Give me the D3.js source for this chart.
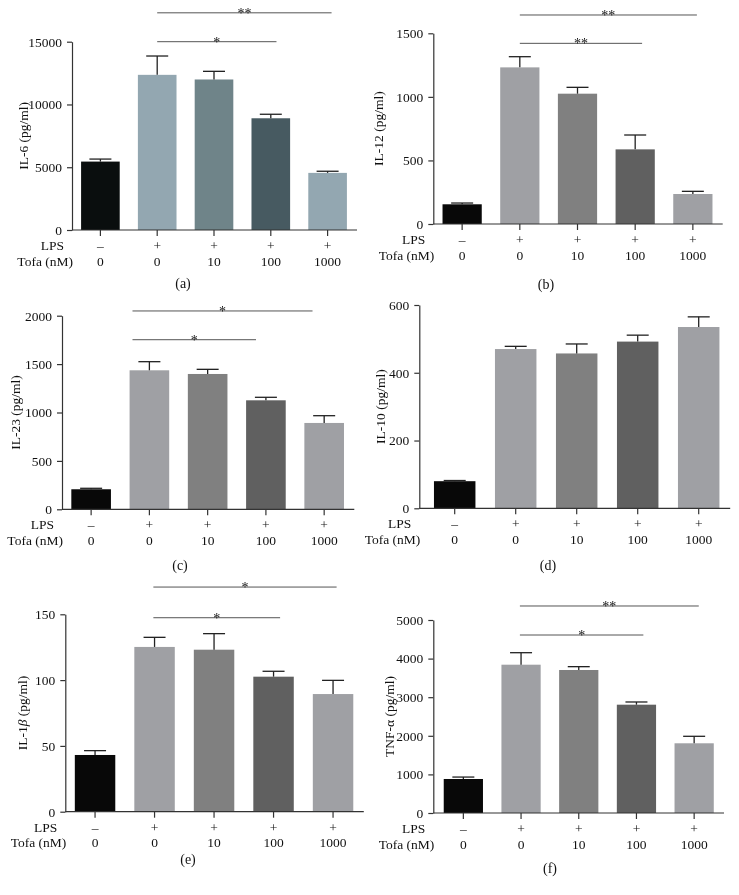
<!DOCTYPE html>
<html>
<head>
<meta charset="utf-8">
<script src="https://cdn.jsdelivr.net/npm/d3@7"></script>
<style>
  body { margin: 0; background: #fff; }
  svg { will-change: transform; }
  svg text { font-family: "Liberation Serif", "DejaVu Serif", serif; fill: #111; }
</style>
</head>
<body>
<svg width="739" height="895"></svg>
<script>
// shared categories
const groups = ['ctrl', 'lps', 'tofa10', 'tofa100', 'tofa1000'];
const lpsLabels = ['–', '+', '+', '+', '+'];
const tofaLabels = ['0', '0', '10', '100', '1000'];

// (a) IL-6
const il6Mean = [5450, 12360, 11990, 8900, 4550];
const il6Err = [200, 1500, 650, 320, 130];
const il6Ticks = [0, 5000, 10000, 15000];
const il6Sig = [{ from: 1, to: 3.1, level: 15000, text: '*' }, { from: 1, to: 4.07, level: 17300, text: '**' }];

// (b) IL-12
const il12Mean = [155, 1232, 1025, 587, 236];
const il12Err = [10, 84, 50, 113, 21];
const il12Ticks = [0, 500, 1000, 1500];
const il12Sig = [{ from: 1, to: 3.12, level: 1421, text: '**' }, { from: 1, to: 4.07, level: 1644, text: '**' }];

// (c) IL-23
const il23Mean = [207, 1436, 1398, 1126, 892];
const il23Err = [10, 89, 48, 31, 75];
const il23Ticks = [0, 500, 1000, 1500, 2000];
const il23Sig = [{ from: 0.71, to: 2.83, level: 1752, text: '*' }, { from: 0.71, to: 3.8, level: 2049, text: '*' }];

// (d) IL-10
const il10Mean = [80, 470, 457, 492, 535];
const il10Err = [2, 8, 28, 19, 30];
const il10Ticks = [0, 200, 400, 600];
const il10Sig = [];

// (e) IL-1beta
const il1bMean = [43.1, 125.2, 123.1, 102.6, 89.4];
const il1bErr = [3.3, 7.3, 12.2, 4.1, 10.4];
const il1bTicks = [0, 50, 100, 150];
const il1bSig = [{ from: 0.98, to: 3.11, level: 147.4, text: '*' }, { from: 0.98, to: 4.06, level: 170.7, text: '*' }];

// (f) TNF-alpha
const tnfMean = [881, 3842, 3705, 2806, 1806];
const tnfErr = [50, 311, 86, 70, 181];
const tnfTicks = [0, 1000, 2000, 3000, 4000, 5000];
const tnfSig = [{ from: 0.98, to: 3.12, level: 4611, text: '*' }, { from: 0.98, to: 4.08, level: 5363, text: '**' }];

const blueColors = ['#0a0e0e', '#93a7b1', '#6f8489', '#475a61', '#93a7b1'];
const greyColors = ['#080808', '#9fa0a4', '#808080', '#606060', '#9fa0a4'];

const panels = [
  { cap: '(a)', title: ['IL-6 (pg/ml)'], mean: il6Mean, err: il6Err, ticks: il6Ticks, sig: il6Sig, colors: blueColors,
    box: { ax: 72, x0: 72, x1: 356, yTop: 41.7, yBot: 230, labelX: 28, capX: 183, capY: 287.5 } },
  { cap: '(b)', title: ['IL-12 (pg/ml)'], mean: il12Mean, err: il12Err, ticks: il12Ticks, sig: il12Sig, colors: greyColors,
    box: { ax: 433.3, x0: 433.3, x1: 721.7, yTop: 33.3, yBot: 224, labelX: 383, capX: 546, capY: 289 } },
  { cap: '(c)', title: ['IL-23 (pg/ml)'], mean: il23Mean, err: il23Err, ticks: il23Ticks, sig: il23Sig, colors: greyColors,
    box: { ax: 62, x0: 62, x1: 353.3, yTop: 315.7, yBot: 509.3, labelX: 20, capX: 180, capY: 570 } },
  { cap: '(d)', title: ['IL-10 (pg/ml)'], mean: il10Mean, err: il10Err, ticks: il10Ticks, sig: il10Sig, colors: greyColors,
    box: { ax: 419.3, x0: 424.2, x1: 729.2, yTop: 305, yBot: 508.3, labelX: 385, capX: 548, capY: 570 } },
  { cap: '(e)', title: ['IL-1', 'β', ' (pg/ml)'], mean: il1bMean, err: il1bErr, ticks: il1bTicks, sig: il1bSig, colors: greyColors,
    box: { ax: 65.3, x0: 65.3, x1: 362.8, yTop: 614.3, yBot: 811.7, labelX: 26.5, capX: 188, capY: 863.5 } },
  { cap: '(f)', title: ['TNF-α (pg/ml)'], mean: tnfMean, err: tnfErr, ticks: tnfTicks, sig: tnfSig, colors: greyColors,
    box: { ax: 433.3, x0: 434.5, x1: 723, yTop: 620, yBot: 813, labelX: 394, capX: 550, capY: 872.5 } }
];

const svg = d3.select('svg');
const AXIS = '#333';
const FS = 13.5;

panels.forEach(p => {
  const b = p.box;
  const g = svg.append('g');

  const x = d3.scaleBand().domain(groups).range([b.x0, b.x1]).paddingInner(0.32).paddingOuter(0.16);
  const y = d3.scaleLinear().domain([0, d3.max(p.ticks)]).range([b.yBot, b.yTop]);
  const cx = i => {
    const k = Math.min(Math.floor(i), groups.length - 1);
    return x(groups[k]) + x.bandwidth() / 2 + (i - k) * x.step();
  };

  // bars
  g.selectAll('.bar')
    .data(p.mean)
    .enter()
    .append('rect')
    .attr('x', (d, i) => x(groups[i]))
    .attr('width', x.bandwidth())
    .attr('y', d => y(d))
    .attr('height', d => b.yBot - y(d))
    .attr('fill', (d, i) => p.colors[i]);

  // error bars (upper half only)
  const eb = g.selectAll('.err')
    .data(p.mean)
    .enter()
    .append('g')
    .attr('stroke', '#222')
    .attr('stroke-width', 1.3);
  eb.append('line')
    .attr('x1', (d, i) => cx(i)).attr('x2', (d, i) => cx(i))
    .attr('y1', d => y(d)).attr('y2', (d, i) => y(d + p.err[i]));
  eb.append('line')
    .attr('x1', (d, i) => cx(i) - 11).attr('x2', (d, i) => cx(i) + 11)
    .attr('y1', (d, i) => y(d + p.err[i])).attr('y2', (d, i) => y(d + p.err[i]));

  // y axis
  const yAxis = g.append('g')
    .attr('transform', `translate(${b.ax},0)`)
    .call(d3.axisLeft(y).tickValues(p.ticks).tickFormat(d3.format('d')).tickSize(5).tickPadding(5).tickSizeOuter(0));
  yAxis.select('.domain').attr('stroke', AXIS).attr('stroke-width', 1.2);
  yAxis.selectAll('.tick line').attr('stroke', AXIS).attr('stroke-width', 1.2);
  yAxis.selectAll('.tick text')
    .attr('font-size', FS)
    .attr('font-family', '"Liberation Serif", "DejaVu Serif", serif')
    .attr('fill', '#111');

  // x axis
  const xAxis = g.append('g')
    .attr('transform', `translate(0,${b.yBot})`)
    .call(d3.axisBottom(x).tickSize(6).tickFormat('').tickSizeOuter(0));
  xAxis.select('.domain').remove();
  xAxis.selectAll('.tick line').attr('stroke', AXIS).attr('stroke-width', 1.2);
  g.append('line')
    .attr('x1', b.ax).attr('x2', b.x1 + 1)
    .attr('y1', b.yBot).attr('y2', b.yBot)
    .attr('stroke', AXIS).attr('stroke-width', 1.2);

  // LPS / Tofa rows
  g.append('text').text('LPS')
    .attr('x', b.ax - 8).attr('y', b.yBot + 20)
    .attr('text-anchor', 'end').attr('font-size', FS);
  g.append('text').text('Tofa (nM)')
    .attr('x', b.ax + 1).attr('y', b.yBot + 35.5)
    .attr('text-anchor', 'end').attr('font-size', FS);
  g.selectAll('.lps')
    .data(lpsLabels)
    .enter()
    .append('text')
    .text(d => d)
    .attr('x', (d, i) => cx(i)).attr('y', b.yBot + 20)
    .attr('text-anchor', 'middle').attr('font-size', FS);
  g.selectAll('.tofa')
    .data(tofaLabels)
    .enter()
    .append('text')
    .text(d => d)
    .attr('x', (d, i) => cx(i)).attr('y', b.yBot + 35.5)
    .attr('text-anchor', 'middle').attr('font-size', FS);

  // y label
  const ttl = g.append('text')
    .attr('transform', `translate(${b.labelX},${(b.yTop + b.yBot) / 2}) rotate(-90)`)
    .attr('text-anchor', 'middle').attr('font-size', FS);
  p.title.forEach((t, i) => {
    ttl.append('tspan').text(t).attr('font-style', p.title.length > 1 && i === 1 ? 'italic' : null);
  });

  // significance brackets
  p.sig.forEach(s => {
    const ly = y(s.level);
    g.append('line')
      .attr('x1', cx(s.from)).attr('x2', cx(s.to))
      .attr('y1', ly).attr('y2', ly)
      .attr('stroke', '#555').attr('stroke-width', 1);
    g.append('text').text(s.text)
      .attr('x', (cx(s.from) + cx(s.to)) / 2).attr('y', ly + 5)
      .attr('text-anchor', 'middle').attr('font-size', 14).attr('fill', '#333');
  });

  // panel caption
  g.append('text').text(p.cap)
    .attr('x', b.capX).attr('y', b.capY)
    .attr('text-anchor', 'middle').attr('font-size', 14);
});
</script>
</body>
</html>
